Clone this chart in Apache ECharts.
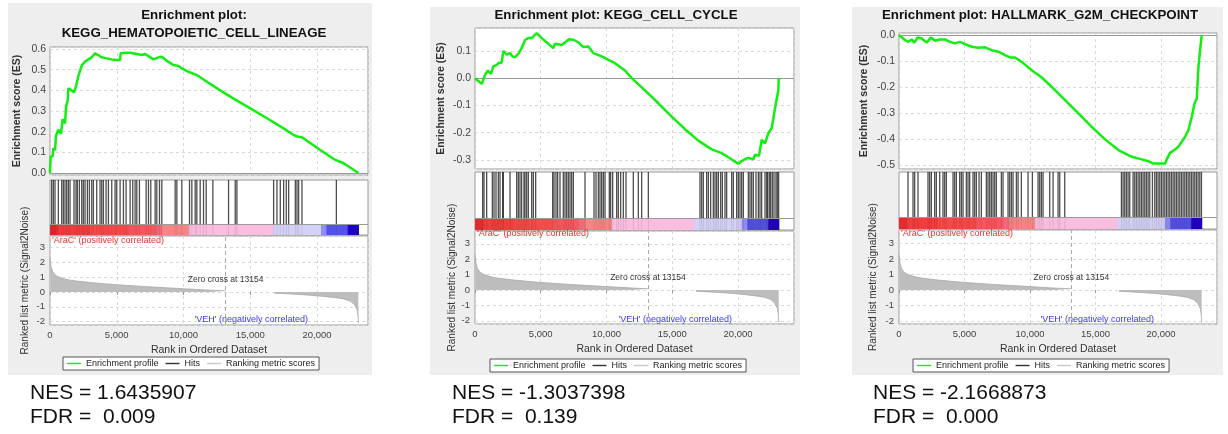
<!DOCTYPE html>
<html><head><meta charset="utf-8">
<script src="https://cdn.jsdelivr.net/npm/echarts@6/dist/echarts.min.js"></script>
<style>html,body{margin:0;padding:0;background:#fff}#c{width:1228px;height:434px}</style>
</head><body><div id="c"></div><script>
// ---------------- DATA ----------------
const geneSets = ['KEGG_HEMATOPOIETIC_CELL_LINEAGE', 'KEGG_CELL_CYCLE', 'HALLMARK_G2M_CHECKPOINT'];
const nesValues = ['1.6435907', '-1.3037398', '-2.1668873'];
const fdrValues = ['0.009', '0.139', '0.000'];
const zeroCross = 13154;
const rankTickStep = 5000;

// running enrichment score [rank, ES]
const esHema = [[0,0],[50,0.08],[200,0.08],[250,0.12],[375,0.11],[450,0.18],[625,0.21],[825,0.19],[950,0.26],[1125,0.24],[1200,0.32],[1325,0.35],[1375,0.41],[1625,0.40],[1800,0.39],[1950,0.42],[2125,0.47],[2375,0.52],[2625,0.54],[2875,0.55],[3125,0.56],[3375,0.58],[3625,0.57],[3875,0.56],[4250,0.555],[4625,0.55],[5000,0.547],[5250,0.547],[5300,0.58],[5625,0.582],[6000,0.582],[6500,0.576],[6875,0.571],[7125,0.576],[7375,0.566],[7750,0.55],[8125,0.56],[8375,0.563],[8750,0.543],[9250,0.523],[9625,0.518],[9875,0.506],[10375,0.49],[11000,0.474],[11750,0.442],[12750,0.40],[13750,0.36],[15000,0.313],[16250,0.265],[17500,0.216],[18250,0.184],[18500,0.176],[18875,0.173],[19250,0.156],[20250,0.111],[21375,0.063],[21500,0.071],[22000,0.047],[23100,0.0]];
const esCellCycle = [[0,0],[507,-0.021],[634,-0.006],[760,0.012],[963,0.028],[1217,0.016],[1394,0.043],[1648,0.049],[1825,0.057],[2028,0.057],[2155,0.10],[2408,0.086],[2662,0.092],[2839,0.08],[3042,0.077],[3296,0.089],[3549,0.11],[3803,0.14],[4056,0.147],[4310,0.147],[4690,0.165],[5070,0.147],[5577,0.126],[5957,0.11],[6084,0.126],[6591,0.122],[6845,0.131],[7149,0.143],[7478,0.141],[7858,0.131],[8239,0.114],[8619,0.116],[9000,0.092],[9633,0.08],[10267,0.064],[10647,0.055],[11408,0.028],[11915,0.0],[12929,-0.045],[13943,-0.092],[14957,-0.141],[15971,-0.187],[16985,-0.229],[17999,-0.261],[18759,-0.275],[19266,-0.29],[19773,-0.306],[20027,-0.314],[20407,-0.30],[20660,-0.294],[20914,-0.294],[21167,-0.297],[21294,-0.281],[21598,-0.285],[21801,-0.226],[22055,-0.239],[22308,-0.202],[22562,-0.183],[22689,-0.147],[22815,-0.11],[22942,-0.077],[23069,-0.043],[23100,0.0]];
const esG2M = [[0,0],[458,-0.019],[713,-0.026],[967,-0.017],[1171,-0.029],[1425,-0.009],[1731,-0.013],[2112,-0.029],[2443,-0.009],[2749,-0.022],[3130,-0.017],[3512,-0.017],[3894,-0.026],[4276,-0.032],[4657,-0.026],[5039,-0.035],[5548,-0.045],[6057,-0.049],[6566,-0.047],[7075,-0.058],[7584,-0.064],[8093,-0.077],[8475,-0.086],[8857,-0.086],[9366,-0.103],[10129,-0.135],[10893,-0.163],[11656,-0.199],[12674,-0.25],[13692,-0.301],[14710,-0.353],[15728,-0.401],[16746,-0.442],[17764,-0.468],[18528,-0.478],[19037,-0.485],[19418,-0.494],[19800,-0.494],[20309,-0.494],[20436,-0.478],[20690,-0.453],[21072,-0.44],[21327,-0.429],[21582,-0.41],[21836,-0.391],[22091,-0.365],[22345,-0.314],[22549,-0.263],[22727,-0.244],[22854,-0.122],[22981,-0.058],[23100,0.0]];

// gene-set member positions (hits) in the ranked list
const hitsHema = [125,250,375,625,875,1000,1125,1250,1375,1500,1800,1950,2050,2200,2375,2500,2625,2800,2950,3125,3250,3500,3750,3875,4000,4200,4375,4625,4875,5000,5250,5500,5700,6000,6200,6375,6500,6700,7200,7375,7550,7875,8000,8200,8375,9375,9500,9875,10450,10625,10875,11000,11250,11500,11700,12200,13375,13875,14000,16750,17000,17250,17500,17700,17875,18375,18500,18625,18875,21450];
const hitsCellCycle = [583,684,887,1318,1445,1597,1775,1901,2104,2155,2662,3169,3296,3422,3549,3726,3803,3929,4056,4310,4436,4614,5907,6008,6160,6287,6464,6718,6845,6971,7098,7225,7352,7478,8366,9050,9202,9380,9506,9633,9760,9887,10216,10317,10470,10774,10901,11078,11281,11484,12041,12422,12675,13182,17111,17238,17365,17618,17745,17922,18125,18252,18379,18506,18683,18810,19013,19140,19520,19647,19900,20027,20154,20280,20407,20787,20914,21041,21167,21370,21548,21674,21801,22055,22181,22257,22384,22486,22612,22739,22891,22993,23090];
const hitsG2M = [687,1069,1196,1451,2214,2341,2469,2723,2850,3105,3359,3487,3614,4123,4250,4377,4632,4759,4886,5141,5268,5395,5650,5777,5904,6108,6286,6668,6795,6922,7050,7177,7304,7431,7813,7940,8322,8449,8577,8704,8958,9086,9340,9849,10180,10613,10740,10867,10994,11503,11758,12140,12267,12649,16975,17102,17229,17356,17484,17611,17866,17993,18120,18247,18375,18502,18629,18756,18884,19011,19138,19342,19520,19647,19774,19902,20029,20156,20283,20411,20538,20665,20793,20920,21047,21174,21302,21429,21556,21683,21811,21938,22065,22192,22320,22447,22574,22701,22829,22956,23083];

// ranked list metric (Signal2Noise) [rank, value]
const metricCurve = [[0,2.3],[40,1.95],[100,1.65],[200,1.38],[350,1.18],[600,1.03],[1000,0.9],[1500,0.8],[2000,0.74],[3000,0.64],[4000,0.56],[5000,0.49],[6000,0.43],[7000,0.37],[8000,0.32],[9000,0.27],[10000,0.22],[11000,0.17],[12000,0.12],[13154,0.08],[15000,'-'],[16800,-0.08],[17500,-0.11],[18500,-0.16],[19500,-0.22],[20500,-0.3],[21500,-0.4],[22000,-0.47],[22500,-0.62],[22800,-0.85],[23000,-1.2],[23070,-1.6],[23100,-2.1]];

// colour bar bands of the ranked list: edges and level (0 = most positive ... 10 = most negative)
const bandEdges = [0,600,3000,5900,7900,8400,10400,16700,20300,20700,22300,23100];
const bandLevels = [0,1,2,3,4,5,6,7,8,9,10];

// ---------------- STYLE / LAYOUT ----------------
const FONT = '"Liberation Sans", Arial, sans-serif';
const bandPalette = ['#e02c2c','#ee3e3e','#f34a4a','#f5585e','#f06a7a','#f58585','#f9bde0','#d2d2f7','#8e8ef2','#5252e4','#2000c4'];
const layout = [
  {bg:[8,3,364,372], titleX:194, titleY:[15,33], twoLine:true, x0:50, w:318, xMax:23820,
   es:[47,128,-0.01,0.61], hits:[180,55], met:[236,89,-2.23,3.78], esGap:27, metGap:20,
   leg:[63,357], nesX:30, aracY:241, vehX:308},
  {bg:[430,7,370,368], titleX:616, titleY:[15], twoLine:false, x0:475, w:319, xMax:24260,
   es:[28,141,-0.333,0.184], hits:[172,58], met:[231,93,-2.21,3.83], esGap:28, metGap:18,
   leg:[490,359], nesX:452, aracY:234, vehX:732},
  {bg:[852,7,371,368], titleX:1040, titleY:[15], twoLine:false, x0:899, w:318, xMax:24270,
   es:[33,136,-0.515,0.008], hits:[172,57], met:[230,94,-2.19,3.87], esGap:29, metGap:21,
   leg:[913,359], nesX:873, aracY:234, vehX:1154}
];
const esData = [esHema, esCellCycle, esG2M];
const hitData = [hitsHema, hitsCellCycle, hitsG2M];

const grids = [], xAxes = [], yAxes = [], series = [], graphics = [], legends = [];
const gridLine = {show:true, lineStyle:{color:'#d9d9d9', type:[3,3], width:1}};
const tickFmt1 = v => Math.abs(v*10 - Math.round(v*10)) < 1e-6 ? (Math.round(v*10)/10).toFixed(1) : '';
const tickFmtInt = v => Math.abs(v - Math.round(v)) < 1e-6 ? String(Math.round(v)) : '';
const rankFmt = v => (v % rankTickStep === 0) ? v.toLocaleString('en-US') : '';
const lineIcon = 'path://M0,4 L20,4 L20,6 L0,6 Z';

layout.forEach((p, i) => {
  const g = grids.length;
  grids.push({left:p.x0, top:p.es[0], width:p.w, height:p.es[1], show:true, backgroundColor:'#fff', borderColor:'#999', borderWidth:1});
  grids.push({left:p.x0, top:p.hits[0], width:p.w, height:p.hits[1], show:true, backgroundColor:'#fff', borderColor:'#999', borderWidth:1});
  grids.push({left:p.x0, top:p.met[0], width:p.w, height:p.met[1], show:true, backgroundColor:'#fff', borderColor:'#999', borderWidth:1});

  const xb = {type:'value', min:0, max:p.xMax, interval:rankTickStep, axisLine:{show:false}, axisTick:{show:false}};
  xAxes.push(Object.assign({}, xb, {gridIndex:g, axisLabel:{show:false}, splitLine:gridLine}));
  xAxes.push(Object.assign({}, xb, {gridIndex:g+1, axisLabel:{show:false}, splitLine:{show:false}}));
  xAxes.push(Object.assign({}, xb, {gridIndex:g+2, splitLine:gridLine,
    axisTick:{show:true, length:3, lineStyle:{color:'#999'}},
    axisLabel:{show:true, formatter:rankFmt, fontSize:9.5, color:'#444', fontFamily:FONT, margin:5, showMaxLabel:false},
    name:'Rank in Ordered Dataset', nameLocation:'middle', nameGap:20,
    nameTextStyle:{fontSize:10.5, color:'#333', fontFamily:FONT}}));

  yAxes.push({type:'value', gridIndex:g, min:p.es[2], max:p.es[3], splitNumber:5,
    axisLine:{show:false}, axisTick:{show:false}, splitLine:gridLine,
    axisLabel:{formatter:tickFmt1, fontSize:10.5, color:'#444', fontFamily:FONT, margin:4},
    name:'Enrichment score (ES)', nameLocation:'middle', nameRotate:90, nameGap:p.esGap,
    nameTextStyle:{fontSize:10.5, fontWeight:'bold', color:'#333', fontFamily:FONT}});
  yAxes.push({type:'value', gridIndex:g+1, min:0, max:1, show:false, splitLine:{show:false}});
  yAxes.push({type:'value', gridIndex:g+2, min:p.met[2], max:p.met[3], splitNumber:5,
    axisLine:{show:false}, axisTick:{show:false}, splitLine:gridLine,
    axisLabel:{formatter:tickFmtInt, fontSize:9.5, color:'#444', fontFamily:FONT, margin:5},
    name:'Ranked list metric (Signal2Noise)', nameLocation:'middle', nameRotate:90, nameGap:p.metGap,
    nameTextStyle:{fontSize:10, color:'#333', fontFamily:FONT}});

  // enrichment profile
  series.push({type:'line', name:'Enrichment profile', xAxisIndex:g, yAxisIndex:g, data:esData[i],
    showSymbol:false, smooth:false, lineStyle:{color:'#12ee12', width:2.5}, itemStyle:{color:'#12ee12'}, z:5,
    markLine:{silent:true, symbol:'none', label:{show:false}, animation:false,
      lineStyle:{color:'#9a9a9a', type:'solid', width:1}, data:[{yAxis:0}]}});
  // colour bar
  series.push({type:'custom', name:'colorbar', xAxisIndex:g+1, yAxisIndex:g+1,
    data: bandLevels.map((lv, k) => [bandEdges[k], 0, bandEdges[k+1], lv]),
    encode:{x:[0,2], y:1},
    renderItem:(params, api) => {
      const a = api.coord([api.value(0), 0.2]);
      const b = api.coord([api.value(2), 0]);
      return {type:'rect', shape:{x:a[0], y:a[1], width:b[0]-a[0]+0.6, height:b[1]-a[1]}, style:{fill:bandPalette[api.value(3)]}};
    },
    markLine:{silent:true, symbol:'none', label:{show:false}, animation:false,
      lineStyle:{color:'#9a9a9a', type:'solid', width:1}, data:[{yAxis:0.2}]}});
  // hits
  series.push({type:'custom', name:'Hits', xAxisIndex:g+1, yAxisIndex:g+1, itemStyle:{color:'#333'},
    data: hitData[i].map(r => [r, 1]), encode:{x:0, y:1}, z:4,
    renderItem:(params, api) => {
      const t = api.coord([api.value(0), 1]);
      const b = api.coord([api.value(0), 0.2]);
      const c = api.coord([api.value(0), 0]);
      return {type:'group', children:[
        {type:'line', shape:{x1:t[0], y1:t[1], x2:b[0], y2:b[1]}, style:{stroke:'rgba(10,10,10,0.72)', lineWidth:1.3}},
        {type:'line', shape:{x1:t[0], y1:b[1], x2:c[0], y2:c[1]}, style:{stroke:'rgba(60,0,0,0.10)', lineWidth:1}}
      ]};
    }});
  // ranking metric
  series.push({type:'line', name:'Ranking metric scores', xAxisIndex:g+2, yAxisIndex:g+2, data:metricCurve,
    showSymbol:false, connectNulls:false, lineStyle:{color:'#a8a8a8', width:0.8}, itemStyle:{color:'#c8c8c8'},
    areaStyle:{color:'#bdbdbd', opacity:1},
    markLine:{silent:true, symbol:'none', label:{show:false}, animation:false,
      lineStyle:{color:'#aaaaaa', type:[4,3], width:1}, data:[{xAxis:zeroCross}]},
    markPoint:{silent:true, symbol:'circle', symbolSize:0, animation:false,
      label:{show:true, position:'inside', formatter:'Zero cross at ' + zeroCross, fontSize:8.5, color:'#333', fontFamily:FONT},
      data:[{coord:[zeroCross, 0.82]}]}});

  // backgrounds and texts
  graphics.push({type:'rect', z:-10, shape:{x:p.bg[0], y:p.bg[1], width:p.bg[2], height:p.bg[3]}, style:{fill:'#eeeeee'}});
  const titleLines = p.twoLine ? ['Enrichment plot:', geneSets[i]] : ['Enrichment plot: ' + geneSets[i]];
  titleLines.forEach((t, k) => graphics.push({type:'text', z:10, x:p.titleX, y:p.titleY[k],
    style:{text:t, font:'bold 13.3px ' + FONT, fill:'#111', textAlign:'center', textVerticalAlign:'middle'}}));
  graphics.push({type:'text', z:10, x:p.x0 + 2, y:p.aracY,
    style:{text:"'AraC' (positively correlated)", font:'9px ' + FONT, fill:'#f03030', textAlign:'left', textVerticalAlign:'middle'}});
  graphics.push({type:'text', z:10, x:p.vehX, y:320,
    style:{text:"'VEH' (negatively correlated)", font:'9px ' + FONT, fill:'#3a3af0', textAlign:'right', textVerticalAlign:'middle'}});
  graphics.push({type:'text', z:10, x:p.nesX, y:393,
    style:{text:'NES = ' + nesValues[i], font:'21px ' + FONT, fill:'#111', textAlign:'left', textVerticalAlign:'middle'}});
  graphics.push({type:'text', z:10, x:p.nesX, y:417,
    style:{text:'FDR =  ' + fdrValues[i], font:'21px ' + FONT, fill:'#111', textAlign:'left', textVerticalAlign:'middle'}});

  legends.push({left:p.leg[0], top:p.leg[1], orient:'horizontal', selectedMode:false,
    itemGap:7, itemWidth:14, itemHeight:8, padding:[2,4], borderColor:'#555', borderWidth:1, borderRadius:0,
    backgroundColor:'#fff', textStyle:{fontSize:9, color:'#222', fontFamily:FONT},
    data:[{name:'Enrichment profile', icon:lineIcon, itemStyle:{color:'#12ee12'}},
          {name:'Hits', icon:lineIcon, itemStyle:{color:'#333'}},
          {name:'Ranking metric scores', icon:lineIcon, itemStyle:{color:'#c8c8c8'}}]});
});

const chart = echarts.init(document.getElementById('c'), null, {renderer:'canvas'});
chart.setOption({
  animation:false, backgroundColor:'#fff',
  textStyle:{fontFamily:FONT},
  grid:grids, xAxis:xAxes, yAxis:yAxes, series:series, legend:legends,
  graphic:{elements:graphics}
});
</script></body></html>
